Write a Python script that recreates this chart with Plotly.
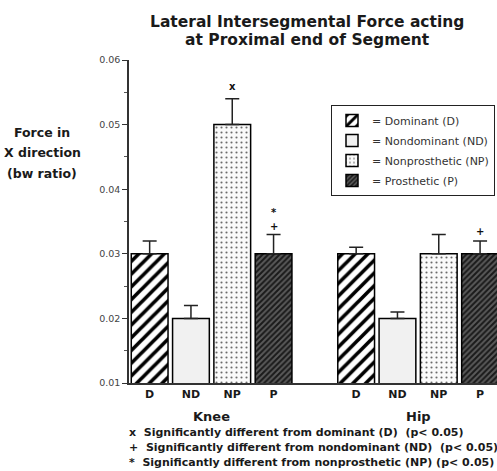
import plotly.graph_objects as go

# Data
series = ["Dominant (D)", "Nondominant (ND)", "Nonprosthetic (NP)", "Prosthetic (P)"]
short = ["D", "ND", "NP", "P"]
joints = ["Knee", "Hip"]
knee_vals = [0.030, 0.020, 0.050, 0.030]
knee_err = [0.002, 0.002, 0.004, 0.003]
hip_vals = [0.030, 0.020, 0.030, 0.030]
hip_err = [0.001, 0.001, 0.003, 0.002]
knee_pos = [0, 1, 2, 3]
hip_pos = [5, 6, 7, 8]
title_lines = ["Lateral Intersegmental Force acting", "at Proximal end of Segment"]
ylabel_lines = ["Force in", "X direction", "(bw ratio)"]
footnotes = [
    "x  Significantly different from dominant (D)  (p< 0.05)",
    "+  Significantly different from nondominant (ND)  (p< 0.05)",
    "*  Significantly different from nonprosthetic (NP) (p< 0.05)",
]
# significance markers: (x position, y value, symbol)
sig_marks = [(2, 0.0559, "x"), (3, 0.0364, "*"), (3, 0.0343, "+"), (8, 0.0335, "+")]

patterns = [
    dict(shape="/", bgcolor="white", fgcolor="black", size=9, solidity=0.4, fgopacity=1),
    dict(shape="", bgcolor="#f1f1f1", fgcolor="#f1f1f1"),
    dict(shape=".", bgcolor="#fafafa", fgcolor="#6a6a6a", size=5, solidity=0.14, fgopacity=1),
    dict(shape="/", bgcolor="#5a5a5a", fgcolor="#1a1a1a", size=4, solidity=0.5, fgopacity=1),
]

FONT = "DejaVu Sans, sans-serif"
TXT = "#1a1a1a"
L, R, T, B = 129, 497, 60, 383   # plot area in pixels


def px(xp):
    return (xp - L) / (R - L)


def py(yp):
    return (B - yp) / (B - T)


fig = go.Figure()
for i, name in enumerate(series):
    fig.add_trace(go.Bar(
        x=[knee_pos[i], hip_pos[i]],
        y=[knee_vals[i], hip_vals[i]],
        name="= " + name,
        legendgroup="g%d" % i,
        width=0.89,
        marker=dict(color=patterns[i]["bgcolor"], pattern=patterns[i],
                    line=dict(color="black", width=1.5)),
        error_y=dict(type="data", symmetric=False,
                     array=[knee_err[i], hip_err[i]], arrayminus=[0, 0],
                     color="#222", thickness=1.5, width=7),
    ))

annotations = []
for x, y, s in sig_marks:
    annotations.append(dict(x=x, y=y, xref="x", yref="y", text="<b>" + s + "</b>",
                            showarrow=False, yanchor="middle",
                            font=dict(size=10, color="#111", family=FONT)))
for k, t in enumerate(title_lines):
    annotations.append(dict(x=px(307), y=py(22 + 18.5 * k), xref="paper", yref="paper",
                            text="<b>" + t + "</b>", showarrow=False,
                            xanchor="center", yanchor="middle",
                            font=dict(size=15.5, color=TXT, family=FONT)))
for k, t in enumerate(ylabel_lines):
    annotations.append(dict(x=px(42), y=py(132 + 20.5 * k), xref="paper", yref="paper",
                            text="<b>" + t + "</b>", showarrow=False,
                            xanchor="center", yanchor="middle",
                            font=dict(size=12.5, color=TXT, family=FONT)))
for j, pos in enumerate([1.5, 6.5]):
    annotations.append(dict(x=pos, y=py(416), xref="x", yref="paper", text="<b>" + joints[j] + "</b>",
                            showarrow=False, xanchor="center", yanchor="middle",
                            font=dict(size=13, color=TXT, family=FONT)))
for k, t in enumerate(footnotes):
    annotations.append(dict(x=px(127), y=py(432 + 15 * k), xref="paper", yref="paper",
                            text="<b>" + t + "</b>", showarrow=False,
                            xanchor="left", yanchor="middle",
                            font=dict(size=11, color=TXT, family=FONT)))

fig.update_layout(
    width=497, height=471,
    margin=dict(l=L, r=497 - R, t=T, b=471 - B),
    plot_bgcolor="white", paper_bgcolor="white",
    font=dict(family=FONT, color=TXT),
    showlegend=True,
    legend=dict(x=px(331), y=py(105), xanchor="left", yanchor="top",
                bgcolor="white", bordercolor="#222", borderwidth=1,
                font=dict(size=11, color="#333", family=FONT), itemwidth=30,
                tracegroupgap=1, traceorder="grouped"),
    annotations=annotations,
)
fig.update_xaxes(range=[-0.5, 8.41], showline=True, linecolor="#333", linewidth=1.5,
                 tickvals=knee_pos + hip_pos,
                 ticktext=["<b>" + s + "</b>" for s in short] * 2,
                 ticks="", tickfont=dict(size=11, color=TXT, family=FONT),
                 showgrid=False, zeroline=False)
fig.update_yaxes(range=[0.01, 0.06], showline=True, linecolor="#333", linewidth=1.5,
                 tickvals=[0.01, 0.02, 0.03, 0.04, 0.05, 0.06],
                 ticktext=["0.01", "0.02", "0.03", "0.04", "0.05", "0.06"],
                 ticks="outside", ticklen=5, tickcolor="#333",
                 minor=dict(dtick=0.005, ticks="outside", ticklen=3, tickcolor="#555"),
                 tickfont=dict(size=9.5, color="#444", family=FONT),
                 showgrid=False, zeroline=False)

fig.write_html("out.html", config={"displayModeBar": False},
               post_script="document.body.style.margin='0';")
